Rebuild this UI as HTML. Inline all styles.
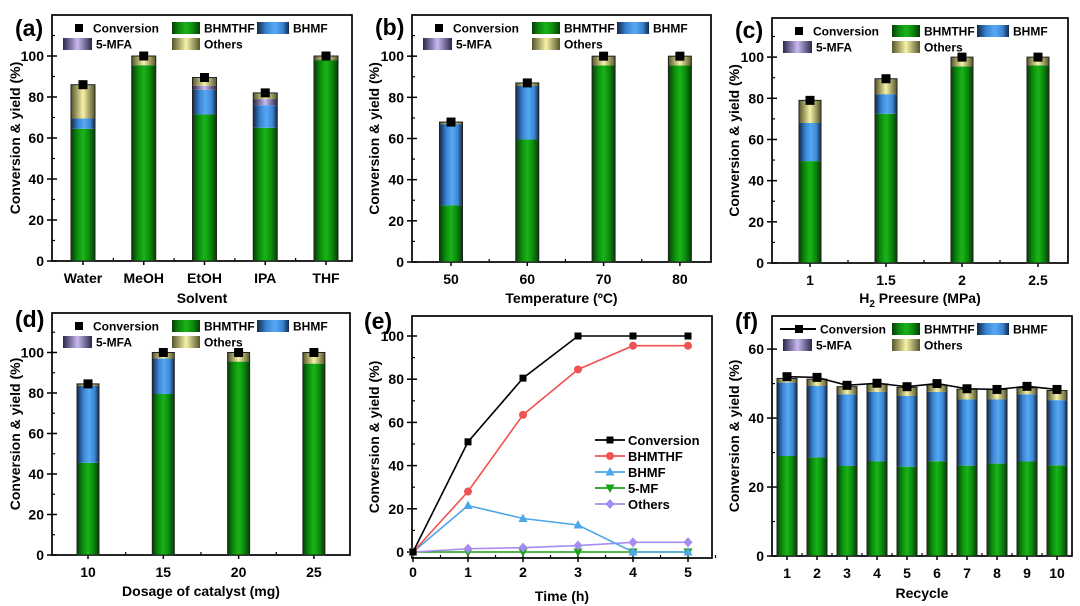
<!DOCTYPE html>
<html><head><meta charset="utf-8"><style>
html,body{margin:0;padding:0;background:#fff;}
svg{display:block;font-family:"Liberation Sans",Arial,sans-serif;font-weight:bold;}
</style></head><body>
<svg id="fig" width="1080" height="606" viewBox="0 0 1080 606" xmlns="http://www.w3.org/2000/svg">
<defs>
<linearGradient id="gG" x1="0" x2="1" y1="0" y2="0"><stop offset="0" stop-color="#063d06"/><stop offset="0.25" stop-color="#0c8a0c"/><stop offset="0.5" stop-color="#19b419"/><stop offset="0.75" stop-color="#0c8a0c"/><stop offset="1" stop-color="#063d06"/></linearGradient>
<linearGradient id="gB" x1="0" x2="1" y1="0" y2="0"><stop offset="0" stop-color="#13294a"/><stop offset="0.3" stop-color="#3b86d6"/><stop offset="0.55" stop-color="#56a8f2"/><stop offset="0.8" stop-color="#3b86d6"/><stop offset="1" stop-color="#13294a"/></linearGradient>
<linearGradient id="gP" x1="0" x2="1" y1="0" y2="0"><stop offset="0" stop-color="#2a2648"/><stop offset="0.5" stop-color="#c9b9f2"/><stop offset="1" stop-color="#2a2648"/></linearGradient>
<linearGradient id="gY" x1="0" x2="1" y1="0" y2="0"><stop offset="0" stop-color="#55552a"/><stop offset="0.5" stop-color="#f7f2a8"/><stop offset="1" stop-color="#55552a"/></linearGradient>
</defs>
</svg>
<script>
// ---- data ----
const aCats=["Water","MeOH","EtOH","IPA","THF"];
const aBHMTHF=[64.5,95.5,71.5,65,98];
const aBHMF=[5,0,12,11,0];
const aMFA=[0,0,2,3,0];
const aOthers=[16.5,4.5,4,3,2];
const aConv=[86,100,89.5,82,100];

const bCats=["50","60","70","80"];
const bBHMTHF=[27.5,59.5,95.5,95.5];
const bBHMF=[39.5,26,0,0];
const bMFA=[0,0,0,0];
const bOthers=[1,1.5,4.5,4.5];
const bConv=[68,87,100,100];

const cCats=["1","1.5","2","2.5"];
const cBHMTHF=[49.5,72.5,95.5,96];
const cBHMF=[18.5,9.5,0,0];
const cMFA=[0,0,0,0];
const cOthers=[11,7.5,4.5,4];
const cConv=[79,89.5,100,100];

const dCats=["10","15","20","25"];
const dBHMTHF=[45.5,79.5,95.5,94.5];
const dBHMF=[38,17.5,0,0];
const dMFA=[0,0,0,0];
const dOthers=[1,3,4.5,5.5];
const dConv=[84.5,100,100,100];

const eTime=[0,1,2,3,4,5];
const eConv=[0,51,80.5,100,100,100];
const eBHMTHF=[0,28,63.5,84.5,95.5,95.5];
const eBHMF=[0,21.5,15.5,12.5,0,0];
const eMF=[0,0,0,0,0,0];
const eOthers=[0,1.5,2,3,4.5,4.5];
const eXTicks=[0,1,2,3,4,5];

const fCats=["1","2","3","4","5","6","7","8","9","10"];
const fBHMTHF=[29,28.6,26.1,27.4,25.9,27.5,26.2,26.8,27.4,26.3];
const fBHMF=[21.3,20.7,20.8,20.2,20.5,20.1,19.2,18.6,19.5,18.9];
const fMFA=[0,0,0,0,0,0,0,0,0,0];
const fOthers=[1.2,2,2.2,2.3,2.5,2,3,2.9,1.9,2.8];
const fConv=[52,51.8,49.5,50.1,49.1,50,48.5,48.3,49.2,48.3];

const yTicks100=[0,20,40,60,80,100];
const yTicks60=[0,20,40,60];

// ---- helpers ----
const NS="http://www.w3.org/2000/svg";
const svg=document.getElementById("fig");
function el(tag,attrs,parent,text){const e=document.createElementNS(NS,tag);for(const k in attrs)e.setAttribute(k,attrs[k]);if(text!==undefined)e.textContent=text;(parent||svg).appendChild(e);return e;}
function lin(d0,d1,r0,r1){return v=>r0+(v-d0)*(r1-r0)/(d1-d0);}

function frame(g,L,R,T,B,y,yTicks,yMinor,ytitle,tx){
  const box=el("rect",{x:L,y:T,width:R-L,height:B-T,fill:"none",stroke:"#000","stroke-width":1.7},g);
  
  
  yTicks.forEach(v=>{
    const t=el("line",{x1:L-5,x2:L+5,y1:y(v),y2:y(v),stroke:"#000","stroke-width":1.5},g);
    
    
    const lb=el("text",{x:L-8,y:y(v)+5,"text-anchor":"end","font-size":14},g,String(v));
    
    
  });
  yMinor.forEach(v=>{
    const t=el("line",{x1:L,x2:L+3,y1:y(v),y2:y(v),stroke:"#000","stroke-width":1.2},g);
    
    
  });
  const yt=el("text",{x:tx,y:(T+B)/2,"text-anchor":"middle","font-size":14,transform:`rotate(-90 ${tx} ${(T+B)/2})`},g,ytitle);
  
  
}

function barLegend(g,L,T,lineStyle){
  const r1=T+13,r2=T+29;
  if(lineStyle){
    const ln=el("line",{x1:L+8,x2:L+44,y1:r1,y2:r1,stroke:"#000","stroke-width":2},g);
    
    
  }
  const m=el("rect",{x:L+23,y:r1-4,width:8,height:8,fill:"#000"},g);
  
  
  const t1=el("text",{x:lineStyle?L+48:L+41,y:r1+4.5,"font-size":12},g,"Conversion");
  
  
  const items=[[L+120,r1,"gG","BHMTHF",28],[L+205,r1,"gB","BHMF",32],[L+11,r2,"gP","5-MFA",29],[L+120,r2,"gY","Others",28]];
  items.forEach(([x,yy,gr,lab,w])=>{
    const s=el("rect",{x:x,y:yy-6,width:w,height:12,fill:`url(#${gr})`},g);
    
    
    const t=el("text",{x:x+w+4,y:yy+4.5,"font-size":12},g,lab);
    
    
  });
}

function barPanel(p){
  const g=el("g",{},svg);
  
  
  const y=lin(0,p.ymax,p.B,p.T);
  const x=i=>p.c0+i*p.step;
  const minor=[];for(let v=10;v<p.ymax;v+=20)minor.push(v);
  frame(g,p.L,p.R,p.T,p.B,y,p.yTicks,minor,"Conversion & yield (%)",p.ytx);
  p.cats.forEach((c,i)=>{
    const t=el("line",{x1:x(i),x2:x(i),y1:p.B-5,y2:p.B+4,stroke:"#000","stroke-width":1.5},g);
    
    
    if(i<p.cats.length-1){const mt=el("line",{x1:x(i)+p.step/2,x2:x(i)+p.step/2,y1:p.B-3,y2:p.B,stroke:"#000","stroke-width":1.2},g);
      
      }
    const lb=el("text",{x:x(i),y:p.B+22,"text-anchor":"middle","font-size":14},g,c);
    
    
    let base=0;
    [[p.s1,"gG","bar-bhmthf"],[p.s2,"gB","bar-bhmf"],[p.s3,"gP","bar-5-mfa"],[p.s4,"gY","bar-others"]].forEach(([arr,gr,nm])=>{
      const v=arr[i];if(v<=0)return;
      const r=el("rect",{x:x(i)-p.bw/2,y:y(base+v),width:p.bw,height:y(base)-y(base+v),fill:`url(#${gr})`},g);
      
      
      base+=v;
    });
    const o=el("rect",{x:x(i)-p.bw/2,y:y(base),width:p.bw,height:y(0)-y(base),fill:"none",stroke:"#222","stroke-width":1},g);
    
    
  });
  if(p.line){
    const pts=p.conv.map((v,i)=>`${x(i)},${y(v)}`).join(" ");
    const pl=el("polyline",{points:pts,fill:"none",stroke:"#000","stroke-width":1.6},g);
    
    
  }
  p.conv.forEach((v,i)=>{
    const m=el("rect",{x:x(i)-4.5,y:y(v)-4.5,width:9,height:9,fill:"#000"},g);
    
    
  });
  barLegend(g,p.L,p.T,p.line);
  const xt=el("text",{x:(p.L+p.R)/2,y:p.xty,"text-anchor":"middle","font-size":14},g);
  
  
  if(p.xsub){xt.textContent="H";el("tspan",{"font-size":10,dy:4},xt,"2");el("tspan",{dy:-4},xt," Preesure (MPa)");}
  else xt.textContent=p.xtitle;
  const pl=el("text",{x:p.lx,y:p.ly,"font-size":23},g,p.label);
  
  
}

barPanel({name:"panel-a-solvent",L:52,R:352,T:15,B:261,ymax:120,yTicks:yTicks100,c0:83,step:60.75,bw:24,cats:aCats,s1:aBHMTHF,s2:aBHMF,s3:aMFA,s4:aOthers,conv:aConv,ytx:20,xty:303,xtitle:"Solvent",lx:15,ly:36,label:"(a)"});
barPanel({name:"panel-b-temperature",L:412,R:711,T:15,B:262,ymax:120,yTicks:yTicks100,c0:451,step:76.3,bw:23,cats:bCats,s1:bBHMTHF,s2:bBHMF,s3:bMFA,s4:bOthers,conv:bConv,ytx:379,xty:303,xtitle:"Temperature (ºC)",lx:375,ly:35,label:"(b)"});
barPanel({name:"panel-c-pressure",L:772,R:1068,T:18,B:263,ymax:119,yTicks:yTicks100,c0:810,step:76,bw:22,cats:cCats,s1:cBHMTHF,s2:cBHMF,s3:cMFA,s4:cOthers,conv:cConv,ytx:739,xty:303,xsub:true,lx:735,ly:38,label:"(c)"});
barPanel({name:"panel-d-dosage",L:52,R:350,T:313,B:555,ymax:119.5,yTicks:yTicks100,c0:88,step:75.3,bw:22,cats:dCats,s1:dBHMTHF,s2:dBHMF,s3:dMFA,s4:dOthers,conv:dConv,ytx:20,xty:596,xtitle:"Dosage of catalyst (mg)",lx:15,ly:327,label:"(d)"});
barPanel({name:"panel-f-recycle",L:772,R:1072,T:316,B:556,ymax:69.6,yTicks:yTicks60,c0:787,step:30,bw:20,cats:fCats,s1:fBHMTHF,s2:fBHMF,s3:fMFA,s4:fOthers,conv:fConv,line:true,ytx:739,xty:598,xtitle:"Recycle",lx:735,ly:329,label:"(f)"});

// ---- panel e: line chart ----
(function(){
  const g=el("g",{},svg);
  
  
  const L=412,R=712,T=316,B=558;
  const y=lin(0,100,552,336), x=lin(0,5,413,688);
  frame(g,L,R,T,B,y,yTicks100,[10,30,50,70,90,110].filter(v=>y(v)>T),"Conversion & yield (%)",379);
  eXTicks.forEach(v=>{
    const t=el("line",{x1:x(v),x2:x(v),y1:B-5,y2:B+4,stroke:"#000","stroke-width":1.5},g);
    
    
    const mt=el("line",{x1:x(v+0.5),x2:x(v+0.5),y1:B-3,y2:B,stroke:"#000","stroke-width":1.2},g);
    
    
    const lb=el("text",{x:x(v),y:B+19,"text-anchor":"middle","font-size":14},g,String(v));
    
    
  });
  function marker(shape,cx,cy,col,parent){
    let m;
    if(shape==="sq")m=el("rect",{x:cx-3.5,y:cy-3.5,width:7,height:7,fill:col},parent);
    else if(shape==="ci")m=el("circle",{cx:cx,cy:cy,r:4,fill:col},parent);
    else if(shape==="tu")m=el("polygon",{points:`${cx},${cy-5} ${cx-4.5},${cy+3.5} ${cx+4.5},${cy+3.5}`,fill:col},parent);
    else if(shape==="td")m=el("polygon",{points:`${cx},${cy+5} ${cx-4.5},${cy-3.5} ${cx+4.5},${cy-3.5}`,fill:col},parent);
    else m=el("polygon",{points:`${cx},${cy-5} ${cx+4.5},${cy} ${cx},${cy+5} ${cx-4.5},${cy}`,fill:col},parent);
    return m;
  }
  const series=[[eMF,"#18a018","td","5-MF","series-5-mf"],[eOthers,"#a48cf0","di","Others","series-others"],[eBHMF,"#4da6e8","tu","BHMF","series-bhmf"],[eBHMTHF,"#f05252","ci","BHMTHF","series-bhmthf"],[eConv,"#000","sq","Conversion","series-conversion"]];
  series.forEach(([arr,col,sh,lab,nm])=>{
    const pl=el("polyline",{points:arr.map((v,i)=>`${x(eTime[i])},${y(v)}`).join(" "),fill:"none",stroke:col,"stroke-width":1.6},g);
    
    
    arr.forEach((v,i)=>{
      const m=marker(sh,x(eTime[i]),y(v),col,g);
      
      
    });
  });
  const order=[4,3,2,0,1];
  order.forEach((si,k)=>{
    const [arr,col,sh,lab,nm]=series[si];
    const yy=440+k*16;
    const ln=el("line",{x1:595,x2:625,y1:yy,y2:yy,stroke:col,"stroke-width":1.8},g);
    
    
    marker(sh,610,yy,col,g);
    const t=el("text",{x:628,y:yy+5,"font-size":13},g,lab);
    
    
  });
  const xt=el("text",{x:(L+R)/2,y:601,"text-anchor":"middle","font-size":14},g,"Time (h)");
  
  
  const pl=el("text",{x:364,y:329,"font-size":23},g,"(e)");
  
  
})();
</script>
</body></html>
